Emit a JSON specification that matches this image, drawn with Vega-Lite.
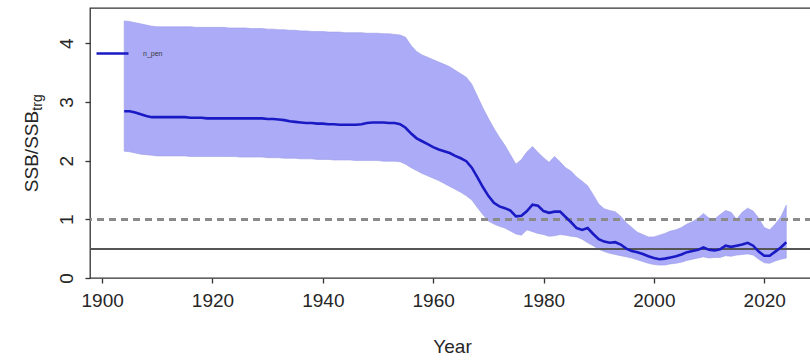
{
  "$schema": "https://vega.github.io/schema/vega-lite/v6.json",
  "autosize": {"type": "none"},
  "padding": {"left": 90, "top": 8, "right": 0, "bottom": 83},
  "width": 722,
  "height": 270,
  "background": "white",
  "config": {
    "font": "Liberation Sans",
    "view": {"stroke": "#333333", "strokeWidth": 1.3},
    "axis": {
      "grid": false,
      "domain": false,
      "tickColor": "#333333",
      "tickWidth": 1.3,
      "tickSize": 5,
      "labelColor": "#262626",
      "labelFontSize": 19,
      "labelFont": "Liberation Sans",
      "titleColor": "#262626",
      "titleFontSize": 19,
      "titleFontWeight": "normal",
      "titleFont": "Liberation Sans"
    },
    "axisY": {
      "labelAngle": -90,
      "labelAlign": "center",
      "labelBaseline": "alphabetic",
      "labelPadding": 13
    }
  },
  "data": {
    "values": [
      {"year": 1904, "median": 2.84, "lower": 2.16, "upper": 4.38},
      {"year": 1905, "median": 2.84, "lower": 2.15, "upper": 4.37},
      {"year": 1906, "median": 2.82, "lower": 2.13, "upper": 4.35},
      {"year": 1907, "median": 2.79, "lower": 2.11, "upper": 4.33},
      {"year": 1908, "median": 2.76, "lower": 2.10, "upper": 4.31},
      {"year": 1909, "median": 2.74, "lower": 2.09, "upper": 4.29},
      {"year": 1910, "median": 2.74, "lower": 2.08, "upper": 4.28},
      {"year": 1911, "median": 2.74, "lower": 2.08, "upper": 4.28},
      {"year": 1912, "median": 2.74, "lower": 2.08, "upper": 4.28},
      {"year": 1913, "median": 2.74, "lower": 2.08, "upper": 4.28},
      {"year": 1914, "median": 2.74, "lower": 2.08, "upper": 4.28},
      {"year": 1915, "median": 2.74, "lower": 2.08, "upper": 4.28},
      {"year": 1916, "median": 2.73, "lower": 2.07, "upper": 4.28},
      {"year": 1917, "median": 2.73, "lower": 2.07, "upper": 4.27},
      {"year": 1918, "median": 2.73, "lower": 2.07, "upper": 4.27},
      {"year": 1919, "median": 2.72, "lower": 2.07, "upper": 4.27},
      {"year": 1920, "median": 2.72, "lower": 2.07, "upper": 4.27},
      {"year": 1921, "median": 2.72, "lower": 2.07, "upper": 4.27},
      {"year": 1922, "median": 2.72, "lower": 2.07, "upper": 4.27},
      {"year": 1923, "median": 2.72, "lower": 2.07, "upper": 4.26},
      {"year": 1924, "median": 2.72, "lower": 2.07, "upper": 4.26},
      {"year": 1925, "median": 2.72, "lower": 2.06, "upper": 4.26},
      {"year": 1926, "median": 2.72, "lower": 2.06, "upper": 4.26},
      {"year": 1927, "median": 2.72, "lower": 2.06, "upper": 4.25},
      {"year": 1928, "median": 2.72, "lower": 2.06, "upper": 4.25},
      {"year": 1929, "median": 2.72, "lower": 2.06, "upper": 4.25},
      {"year": 1930, "median": 2.71, "lower": 2.05, "upper": 4.24},
      {"year": 1931, "median": 2.71, "lower": 2.05, "upper": 4.24},
      {"year": 1932, "median": 2.70, "lower": 2.05, "upper": 4.23},
      {"year": 1933, "median": 2.69, "lower": 2.04, "upper": 4.23},
      {"year": 1934, "median": 2.67, "lower": 2.04, "upper": 4.22},
      {"year": 1935, "median": 2.66, "lower": 2.04, "upper": 4.22},
      {"year": 1936, "median": 2.65, "lower": 2.03, "upper": 4.21},
      {"year": 1937, "median": 2.64, "lower": 2.03, "upper": 4.21},
      {"year": 1938, "median": 2.64, "lower": 2.03, "upper": 4.20},
      {"year": 1939, "median": 2.63, "lower": 2.02, "upper": 4.20},
      {"year": 1940, "median": 2.63, "lower": 2.02, "upper": 4.20},
      {"year": 1941, "median": 2.62, "lower": 2.02, "upper": 4.19},
      {"year": 1942, "median": 2.62, "lower": 2.01, "upper": 4.19},
      {"year": 1943, "median": 2.61, "lower": 2.01, "upper": 4.19},
      {"year": 1944, "median": 2.61, "lower": 2.01, "upper": 4.18},
      {"year": 1945, "median": 2.61, "lower": 2.01, "upper": 4.18},
      {"year": 1946, "median": 2.61, "lower": 2.00, "upper": 4.18},
      {"year": 1947, "median": 2.62, "lower": 2.00, "upper": 4.18},
      {"year": 1948, "median": 2.64, "lower": 2.00, "upper": 4.17},
      {"year": 1949, "median": 2.65, "lower": 2.00, "upper": 4.17},
      {"year": 1950, "median": 2.65, "lower": 2.00, "upper": 4.17},
      {"year": 1951, "median": 2.65, "lower": 1.99, "upper": 4.16},
      {"year": 1952, "median": 2.64, "lower": 1.99, "upper": 4.16},
      {"year": 1953, "median": 2.64, "lower": 1.99, "upper": 4.15},
      {"year": 1954, "median": 2.62, "lower": 1.98, "upper": 4.14},
      {"year": 1955, "median": 2.56, "lower": 1.94, "upper": 4.10},
      {"year": 1956, "median": 2.46, "lower": 1.88, "upper": 3.96},
      {"year": 1957, "median": 2.38, "lower": 1.83, "upper": 3.86},
      {"year": 1958, "median": 2.33, "lower": 1.78, "upper": 3.80},
      {"year": 1959, "median": 2.28, "lower": 1.74, "upper": 3.76},
      {"year": 1960, "median": 2.23, "lower": 1.70, "upper": 3.72},
      {"year": 1961, "median": 2.19, "lower": 1.66, "upper": 3.68},
      {"year": 1962, "median": 2.16, "lower": 1.61, "upper": 3.64},
      {"year": 1963, "median": 2.13, "lower": 1.56, "upper": 3.60},
      {"year": 1964, "median": 2.08, "lower": 1.51, "upper": 3.54},
      {"year": 1965, "median": 2.04, "lower": 1.46, "upper": 3.48},
      {"year": 1966, "median": 1.99, "lower": 1.40, "upper": 3.42},
      {"year": 1967, "median": 1.88, "lower": 1.33, "upper": 3.30},
      {"year": 1968, "median": 1.72, "lower": 1.20, "upper": 3.10},
      {"year": 1969, "median": 1.55, "lower": 1.08, "upper": 2.90},
      {"year": 1970, "median": 1.40, "lower": 0.97, "upper": 2.72},
      {"year": 1971, "median": 1.28, "lower": 0.92, "upper": 2.55},
      {"year": 1972, "median": 1.22, "lower": 0.88, "upper": 2.40},
      {"year": 1973, "median": 1.19, "lower": 0.85, "upper": 2.26},
      {"year": 1974, "median": 1.15, "lower": 0.80, "upper": 2.10},
      {"year": 1975, "median": 1.05, "lower": 0.75, "upper": 1.94},
      {"year": 1976, "median": 1.06, "lower": 0.73, "upper": 2.02},
      {"year": 1977, "median": 1.14, "lower": 0.82, "upper": 2.15},
      {"year": 1978, "median": 1.25, "lower": 0.79, "upper": 2.24},
      {"year": 1979, "median": 1.23, "lower": 0.76, "upper": 2.14},
      {"year": 1980, "median": 1.14, "lower": 0.74, "upper": 2.05},
      {"year": 1981, "median": 1.11, "lower": 0.71, "upper": 1.97},
      {"year": 1982, "median": 1.13, "lower": 0.72, "upper": 2.07},
      {"year": 1983, "median": 1.13, "lower": 0.74, "upper": 1.98},
      {"year": 1984, "median": 1.04, "lower": 0.73, "upper": 1.88},
      {"year": 1985, "median": 0.95, "lower": 0.71, "upper": 1.82},
      {"year": 1986, "median": 0.85, "lower": 0.70, "upper": 1.72},
      {"year": 1987, "median": 0.82, "lower": 0.66, "upper": 1.65},
      {"year": 1988, "median": 0.85, "lower": 0.60, "upper": 1.57},
      {"year": 1989, "median": 0.75, "lower": 0.55, "upper": 1.42},
      {"year": 1990, "median": 0.66, "lower": 0.49, "upper": 1.26},
      {"year": 1991, "median": 0.62, "lower": 0.45, "upper": 1.18},
      {"year": 1992, "median": 0.60, "lower": 0.42, "upper": 1.15},
      {"year": 1993, "median": 0.61, "lower": 0.40, "upper": 1.13},
      {"year": 1994, "median": 0.57, "lower": 0.38, "upper": 1.05},
      {"year": 1995, "median": 0.50, "lower": 0.36, "upper": 0.94},
      {"year": 1996, "median": 0.46, "lower": 0.34, "upper": 0.86},
      {"year": 1997, "median": 0.44, "lower": 0.31, "upper": 0.78},
      {"year": 1998, "median": 0.41, "lower": 0.28, "upper": 0.74},
      {"year": 1999, "median": 0.37, "lower": 0.25, "upper": 0.70},
      {"year": 2000, "median": 0.34, "lower": 0.23, "upper": 0.70},
      {"year": 2001, "median": 0.32, "lower": 0.22, "upper": 0.73},
      {"year": 2002, "median": 0.33, "lower": 0.22, "upper": 0.76},
      {"year": 2003, "median": 0.35, "lower": 0.24, "upper": 0.80},
      {"year": 2004, "median": 0.37, "lower": 0.25, "upper": 0.82},
      {"year": 2005, "median": 0.40, "lower": 0.27, "upper": 0.86},
      {"year": 2006, "median": 0.44, "lower": 0.30, "upper": 0.92},
      {"year": 2007, "median": 0.46, "lower": 0.32, "upper": 0.96},
      {"year": 2008, "median": 0.48, "lower": 0.34, "upper": 1.02},
      {"year": 2009, "median": 0.52, "lower": 0.36, "upper": 1.10},
      {"year": 2010, "median": 0.48, "lower": 0.34, "upper": 1.02},
      {"year": 2011, "median": 0.47, "lower": 0.35, "upper": 1.00},
      {"year": 2012, "median": 0.49, "lower": 0.35, "upper": 1.08},
      {"year": 2013, "median": 0.55, "lower": 0.38, "upper": 1.15},
      {"year": 2014, "median": 0.53, "lower": 0.37, "upper": 1.12},
      {"year": 2015, "median": 0.55, "lower": 0.39, "upper": 1.00},
      {"year": 2016, "median": 0.57, "lower": 0.40, "upper": 1.12},
      {"year": 2017, "median": 0.60, "lower": 0.41, "upper": 1.19},
      {"year": 2018, "median": 0.55, "lower": 0.39, "upper": 1.14},
      {"year": 2019, "median": 0.45, "lower": 0.32, "upper": 1.02},
      {"year": 2020, "median": 0.38, "lower": 0.26, "upper": 0.86},
      {"year": 2021, "median": 0.38, "lower": 0.25, "upper": 0.82},
      {"year": 2022, "median": 0.45, "lower": 0.29, "upper": 0.92},
      {"year": 2023, "median": 0.52, "lower": 0.32, "upper": 1.04},
      {"year": 2024, "median": 0.61, "lower": 0.34, "upper": 1.24}
    ]
  },
  "layer": [
    {
      "mark": {"type": "area", "color": "#ababf8", "stroke": "#9c9ce6", "strokeWidth": 0.6, "opacity": 1},
      "encoding": {
        "x": {
          "field": "year",
          "type": "quantitative",
          "scale": {"domain": [1897.8, 2028.66], "nice": false, "zero": false},
          "axis": {
            "values": [1900, 1920, 1940, 1960, 1980, 2000, 2020],
            "format": "d",
            "labelPadding": 8,
            "labelFlush": false,
            "title": "Year",
            "titleX": 362,
            "titleY": 74,
            "titleAlign": "center",
            "titleBaseline": "alphabetic"
          }
        },
        "y": {
          "field": "lower",
          "type": "quantitative",
          "scale": {"domain": [0, 4.6], "nice": false},
          "axis": {
            "values": [0, 1, 2, 3, 4],
            "title": "SSB/SSB",
            "titleAngle": 270,
            "titleAlign": "center",
            "titleBaseline": "alphabetic",
            "titleX": -53,
            "titleY": 143
          }
        },
        "y2": {"field": "upper"}
      }
    },
    {
      "mark": {"type": "rule", "color": "#8a8a8a", "strokeWidth": 2, "strokeDash": [7, 5]},
      "encoding": {"y": {"datum": 1, "type": "quantitative", "axis": null}}
    },
    {
      "mark": {"type": "rule", "color": "#555555", "strokeWidth": 1.5},
      "encoding": {"y": {"datum": 0.5, "type": "quantitative", "axis": null}}
    },
    {
      "mark": {"type": "line", "strokeWidth": 2.6},
      "encoding": {
        "x": {"field": "year", "type": "quantitative"},
        "y": {
          "field": "median",
          "type": "quantitative",
          "axis": {
            "orient": "left",
            "labels": false,
            "ticks": false,
            "domain": false,
            "title": "trg",
            "titleFontSize": 14,
            "titleAngle": 270,
            "titleAlign": "center",
            "titleBaseline": "alphabetic",
            "titleX": -49,
            "titleY": 94
          }
        },
        "color": {
          "datum": "n_pen",
          "scale": {"range": ["#1a1ac4"]},
          "legend": {
            "title": null,
            "orient": "none",
            "legendX": 5,
            "legendY": 28,
            "symbolType": "stroke",
            "symbolSize": 1024,
            "symbolStrokeWidth": 2.6,
            "labelFontSize": 7,
            "labelColor": "#3a3a3a",
            "labelOffset": 13
          }
        }
      }
    }
  ],
  "resolve": {"axis": {"y": "independent"}}
}
